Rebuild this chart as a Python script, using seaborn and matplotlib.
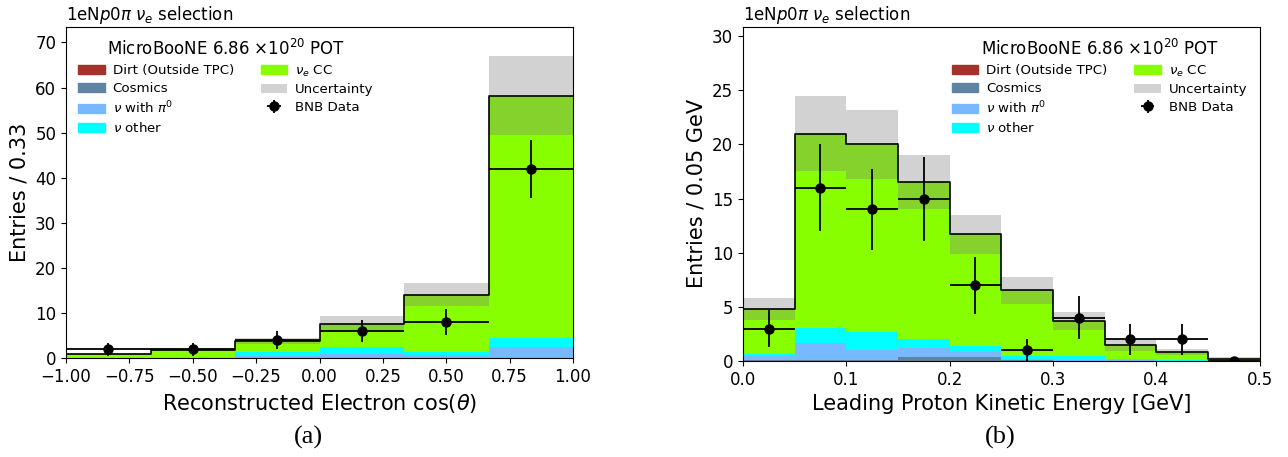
import numpy as np
import pandas as pd
import matplotlib
matplotlib.use("Agg")
import matplotlib.pyplot as plt
import matplotlib.patches as mpatches
import seaborn as sns

# ---- sample composition (stack order: bottom -> top) ----
COMPONENTS = ["Dirt (Outside TPC)", "Cosmics", r"$\nu$ with $\pi^0$",
              r"$\nu$ other", r"$\nu_e$ CC"]
COLORS = ["#a3322a", "#5f84a2", "#78b8ff", "#00ffff", "#88ff00"]

# ---- (a) reconstructed electron cos(theta) ----
cos_edges = [-1.0, -2 / 3, -1 / 3, 0.0, 1 / 3, 2 / 3, 1.0]
cos_dirt = [0.0, 0.0, 0.0, 0.0, 0.0, 0.0]
cos_cosmics = [0.0, 0.0, 0.0, 0.0, 0.0, 0.0]
cos_pi0 = [0.0, 0.05, 0.5, 1.0, 0.7, 2.6]
cos_other = [0.15, 0.1, 0.9, 1.4, 0.7, 2.0]
cos_nue = [0.85, 1.75, 2.5, 5.15, 12.7, 53.6]
cos_unc = [0.25, 0.3, 0.7, 1.8, 2.5, 8.8]
cos_data = [2, 2, 4, 6, 8, 42]

# ---- (b) leading proton kinetic energy ----
ke_edges = [0.0, 0.05, 0.1, 0.15, 0.2, 0.25, 0.3, 0.35, 0.4, 0.45, 0.5]
ke_dirt = [0.0] * 10
ke_cosmics = [0.1, 0.1, 0.1, 0.35, 0.35, 0.05, 0.03, 0.02, 0.01, 0.0]
ke_pi0 = [0.4, 1.55, 0.95, 0.85, 0.5, 0.1, 0.05, 0.05, 0.03, 0.0]
ke_other = [0.15, 1.4, 1.65, 0.8, 0.55, 0.3, 0.35, 0.1, 0.05, 0.02]
ke_nue = [4.15, 17.95, 17.3, 14.55, 10.3, 6.1, 3.27, 1.28, 0.74, 0.13]
ke_unc = [1.0, 3.5, 3.2, 2.5, 1.8, 1.25, 0.8, 0.55, 0.25, 0.2]
ke_data = [3, 16, 14, 15, 7, 1, 4, 2, 2, 0]

TITLE = r"1eN$p0\pi$ $\nu_e$ selection"
POT = r"MicroBooNE 6.86 $\times10^{20}$ POT"

W, H = 1288, 457
fig = plt.figure(figsize=(W / 100, H / 100), dpi=100)
plt.rcParams["font.family"] = ["DejaVu Sans"]


def draw_panel(ax, edges, comps, unc, data, xlabel, ylabel, ylim, xticks,
               yticks, xfmt, loc):
    edges_arr = np.asarray(edges, dtype=float)
    centers = 0.5 * (edges_arr[:-1] + edges_arr[1:])
    widths = np.diff(edges_arr)

    rows = []
    for name, vals in zip(COMPONENTS, comps):
        for c, v in zip(centers, vals):
            rows.append({"x": c, "w": v, "comp": name})
    df = pd.DataFrame(rows)

    # stacked prediction
    sns.histplot(data=df, x="x", weights="w", hue="comp",
                 hue_order=COMPONENTS[::-1], multiple="stack",
                 bins=list(edges), element="bars",
                 palette=dict(zip(COMPONENTS, COLORS)),
                 alpha=1.0, linewidth=0, legend=False, ax=ax, zorder=1)

    # systematic band around the total
    total = np.sum(np.asarray(comps, dtype=float), axis=0)
    unc = np.asarray(unc, dtype=float)
    ax.bar(centers, 2 * unc, bottom=total - unc, width=widths,
           color="grey", alpha=0.35, linewidth=0, zorder=2)

    # outline of the total prediction
    tot_df = pd.DataFrame({"x": centers, "w": total})
    sns.histplot(data=tot_df, x="x", weights="w", bins=list(edges),
                 element="step", fill=False, color="black", linewidth=1.2,
                 ax=ax, zorder=3)

    # observed events
    data = np.asarray(data, dtype=float)
    eb = ax.errorbar(centers, data, xerr=widths / 2, yerr=np.sqrt(data),
                     fmt="o", color="black", ms=6.5, elinewidth=1.3,
                     capsize=0, zorder=4)

    ax.set_xlim(edges_arr[0], edges_arr[-1])
    ax.set_ylim(*ylim)
    ax.set_xticks(xticks)
    ax.set_xticklabels([xfmt.format(t).replace("-", "\u2212") for t in xticks])
    ax.set_yticks(yticks)
    ax.tick_params(labelsize=12)
    ax.set_xlabel(xlabel, fontsize=15)
    ax.set_ylabel(ylabel, fontsize=15)
    ax.set_title(TITLE, loc="left", fontsize=12, pad=5)

    handles = [mpatches.Patch(color=c) for c in COLORS]
    handles.append(mpatches.Patch(color="grey", alpha=0.35, linewidth=0))
    handles.append(eb)
    labels = COMPONENTS + ["Uncertainty", "BNB Data"]
    ax.legend(handles, labels, loc=loc, ncol=2, frameon=False, fontsize=9.6,
              title=POT, title_fontsize=12, labelspacing=0.35,
              handlelength=2.0, handletextpad=0.6, columnspacing=2.0)


ax_a = fig.add_axes([66 / W, 98.7 / H, 507 / W, 331.6 / H])
draw_panel(ax_a, cos_edges,
           [cos_dirt, cos_cosmics, cos_pi0, cos_other, cos_nue],
           cos_unc, cos_data, r"Reconstructed Electron cos($\theta$)",
           "Entries / 0.33", (0, 73.5), np.arange(-1.0, 1.01, 0.25),
           np.arange(0, 71, 10), "{:.2f}", "upper left")

ax_b = fig.add_axes([743 / W, 96 / H, 516.5 / W, 334.3 / H])
draw_panel(ax_b, ke_edges,
           [ke_dirt, ke_cosmics, ke_pi0, ke_other, ke_nue],
           ke_unc, ke_data, "Leading Proton Kinetic Energy [GeV]",
           "Entries / 0.05 GeV", (0, 30.87), np.arange(0.0, 0.51, 0.1),
           np.arange(0, 31, 5), "{:.1f}", "upper right")

for x, lab in [(308, "(a)"), (1000, "(b)")]:
    fig.text(x / W, 1 - 437 / H, lab, ha="center", va="center",
             fontsize=19, family="Liberation Serif")

fig.savefig("out.png", dpi=100)
